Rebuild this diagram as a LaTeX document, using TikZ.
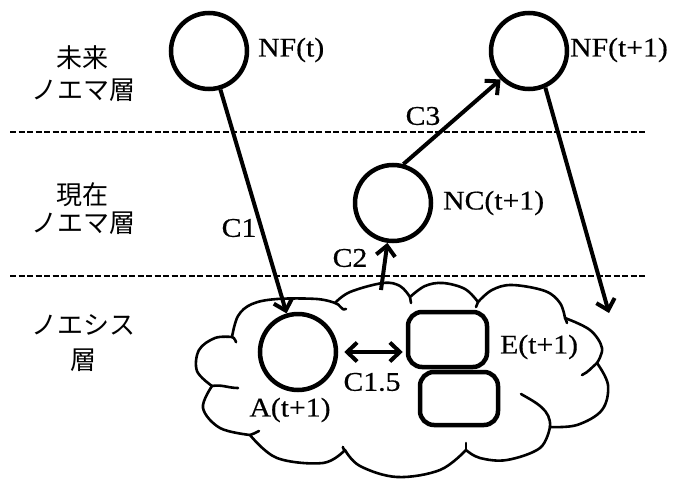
\documentclass[tikz,border=0pt]{standalone}
\usepackage{fontspec}
\setmainfont{Liberation Serif}[FakeStretch=1.1,FakeBold=0.5]
\newfontfamily\jp{Noto Sans CJK JP}
\usetikzlibrary{arrows.meta}
\begin{document}
\begin{tikzpicture}[x=1pt,y=-1pt,
  every node/.style={font=\fontsize{27}{32}\selectfont},
  state/.style={circle,draw,line width=4.5pt,minimum size=76pt,inner sep=0pt},
  rbox/.style={draw,line width=4.5pt,rounded corners=14pt,inner sep=0pt},
  lbl/.style={inner sep=0pt},
  jlbl/.style={inner sep=0pt,font=\jp\fontsize{26}{30}\selectfont},
  arr/.style={line width=4pt,-{Straight Barb[length=10pt,width=19pt,line width=4pt]}},
  darr/.style={line width=4pt,{Straight Barb[length=10pt,width=19pt,line width=4pt]}-{Straight Barb[length=10pt,width=19pt,line width=4pt]}},
  sep/.style={line width=2pt,dash pattern=on 6pt off 2.5pt},
  cl/.style={line width=2.6pt,line join=round,line cap=round}]
\useasboundingbox (0,0) rectangle (675,479);

% layer separators
\coordinate (s1l) at (10,132); \coordinate (s1r) at (647,132);
\coordinate (s2l) at (10,276); \coordinate (s2r) at (647,276);
\draw[sep] (s1l) -- (s1r);
\draw[sep] (s2l) -- (s2r);

% layer names
\node[jlbl] (j1) at (82,58) {未来};
\node[jlbl] (j2) at (83,90) {ノエマ層};
\node[jlbl] (j3) at (82,195) {現在};
\node[jlbl] (j4) at (83,223) {ノエマ層};
\node[jlbl] (j5) at (83,325) {ノエシス};
\node[jlbl] (j6) at (83,360) {層};

% cloud
\draw[cl] plot[smooth,tension=0.6] coordinates {(232,337) (238,316) (252,304) (277,299) (317,299) (335,303)};
\draw[cl] plot[smooth,tension=0.6] coordinates {(335,303) (350,292) (383,283) (400,286) (410,297)};
\draw[cl] plot[smooth,tension=0.6] coordinates {(410,297) (425,286) (443,283) (465,289) (478,302)};
\draw[cl] plot[smooth,tension=0.6] coordinates {(478,302) (492,290) (512,285) (545,291) (560,303) (565,318)};
\draw[cl] plot[smooth,tension=0.6] coordinates {(565,318) (590,330) (602,348) (597,363)};
\draw[cl] plot[smooth,tension=0.6] coordinates {(597,363) (608,385) (602,410) (577,425) (550,427)};
\draw[cl] plot[smooth,tension=0.6] coordinates {(550,427) (540,448) (507,460) (480,458) (466,450)};
\draw[cl] plot[smooth,tension=0.6] coordinates {(466,450) (440,470) (397,477) (360,466) (345,450)};
\draw[cl] plot[smooth,tension=0.6] coordinates {(345,450) (323,463) (277,458) (250,435)};
\draw[cl] plot[smooth,tension=0.6] coordinates {(250,435) (220,428) (203,408) (212,386)};
\draw[cl] plot[smooth,tension=0.6] coordinates {(212,386) (197,371) (199,350) (215,338) (232,337)};
% inner hooks
\draw[cl] (335,303) to[out=-5,in=-140] (346,309);
\draw[cl] (410,297) to[out=-80,in=95] (411,303);
\draw[cl] (478,302) to[out=-95,in=80] (476,307);
\draw[cl] (565,318) to[out=-80,in=90] (567,323);
\draw[cl] (597,363) to[out=-140,in=25] (582,375);
\draw[cl] (550,427) to[out=85,in=-30] (521,394);
\draw[cl] (466,450) to[out=90,in=-100] (466,443);
\draw[cl] (345,450) to[out=-140,in=120] (343,447);
\draw[cl] (250,435) to[out=10,in=-160] (259,431);
\draw[cl] (212,386) to[out=10,in=180] (238,388);
\draw[cl] (232,337) to[out=5,in=-70] (236,342);

% states
\node[state] (nft) at (209,51) {};
\node[state] (nf1) at (529,51) {};
\node[state] (nc) at (393,203) {};
\node[state] (a) at (298,352) {};
\node[rbox,minimum width=79pt,minimum height=55pt] (e1) at (447.5,339.5) {};
\node[rbox,minimum width=78pt,minimum height=53pt] (e2) at (459,398.5) {};

% labels
\node[lbl,anchor=west] (lnft) at (258,50) {NF(t)};
\node[lbl,anchor=west] (lnf1) at (570,50) {NF(t+1)};
\node[lbl,anchor=west] (lnc) at (443,203) {NC(t+1)};
\node[lbl,anchor=west] (le) at (500,347) {E(t+1)};
\node[lbl] (la) at (290,410) {A(t+1)};
\node[lbl] (lc15) at (372,382) {C1.5};
\node[lbl] (lc1) at (239,228) {C1};
\node[lbl] (lc2) at (350,258) {C2};
\node[lbl] (lc3) at (423,116) {C3};

% connectors
\coordinate (c2s) at (381,290);
\coordinate (nfend) at (609,313);
\draw[arr] (nft) -- (a);
\draw[arr] (nc.75) -- (nf1.225);
\draw[arr] (c2s) -- (nc.262);
\draw[arr] (nf1.-66) -- (nfend);
\draw[darr] ([xshift=6pt]a.east) -- ([xshift=-3pt]e1.west |- a.east);
\end{tikzpicture}
\end{document}
